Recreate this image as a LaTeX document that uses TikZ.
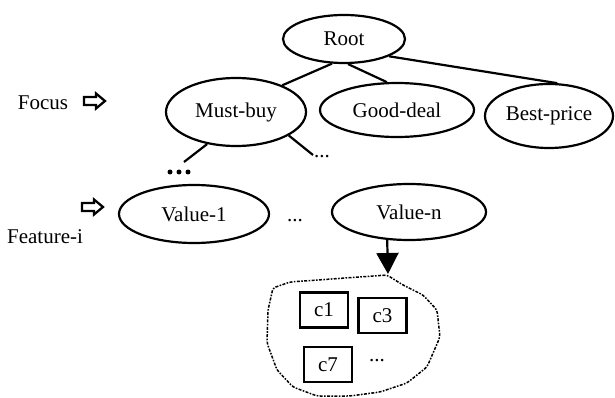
\documentclass[tikz,border=0pt]{standalone}
\usepackage{fontspec}
\setmainfont{Liberation Serif}
\usetikzlibrary{shapes.geometric,arrows.meta}
\tikzset{
  txt/.style={font=\fontsize{21}{25}\selectfont},
  oval/.style={draw,ellipse,line width=2.2pt,inner sep=0pt,txt},
  edge/.style={line width=2.2pt},
  cbox/.style={draw,line width=2.2pt,minimum width=48pt,minimum height=35pt,inner sep=0pt,txt},
  lbl/.style={inner sep=0pt,txt},
  cloudline/.style={line width=1.5pt,dash pattern=on 1.6pt off 1.4pt on 3pt off 1.4pt,rounded corners=3pt},
  hollowarrow/.pic={\draw[line width=2.3pt,line join=miter]
     (-10,-4) -- (2,-4) -- (2,-7.5) -- (11,0) -- (2,7.5) -- (2,4) -- (-10,4) -- cycle;}
}
\begin{document}
\begin{tikzpicture}[x=1pt,y=-1pt]
\useasboundingbox (0,0) rectangle (615,398);

% tree nodes
\node[oval,minimum width=122pt,minimum height=48pt] (root) at (344,39) {Root};
\node[oval,minimum width=140pt,minimum height=68pt] (mb) at (236,112) {Must-buy};
\node[oval,minimum width=154pt,minimum height=54pt] (gd) at (397,110) {Good-deal};
\node[oval,minimum width=128pt,minimum height=64pt] (bp) at (549,116) {Best-price};
\node[oval,minimum width=150pt,minimum height=58pt] (v1) at (194,214) {Value-1};
\node[oval,minimum width=154pt,minimum height=56pt] (vn) at (409,212) {Value-n};

% level labels
\node[lbl] (focus) at (43,103) {Focus};
\pic at (94,101) {hollowarrow};
\node[lbl] (feat) at (45,237) {Feature-i};
\pic at (92,207) {hollowarrow};

% edges from the root
\draw[edge] (root.244) -- (mb.30);
\draw[edge] (root.279) -- (gd.110);
\draw[edge] (root.339) -- (bp.76);

% edges below Must-buy
\coordinate (mbl) at (184,162);
\coordinate (mbr) at (313,155);
\draw[edge] (mb.228) -- (mbl);
\draw[edge] (mb.336) -- (mbr);
\node[lbl,anchor=base] (dotsr) at (322,157.5) {...};
\foreach \x in {170,179,188} \fill (\x,172) circle (2.5);
\node[lbl,anchor=base] (dotsv) at (295,221) {...};

% case cluster
\coordinate (cloudtop) at (388,274);
\draw[cloudline] (387,275) -- (290,282) -- (273,288) -- (268,310) -- (267,343)
  -- (277,370) -- (293,387) -- (317,396) -- (350,396) -- (380,392) -- (407,383)
  -- (427,367) -- (440,337) -- (437,310) -- (423,295) -- (403,285) -- cycle;
\draw[edge,-{Triangle[width=22pt,length=21pt]}] (vn.232) -- (cloudtop);

\node[cbox] (c1) at (324,310) {c1};
\node[cbox] (c3) at (382.5,315.5) {c3};
\node[cbox] (c7) at (328,364.5) {c7};
\node[lbl,anchor=base] (dotsc) at (377,361.5) {...};
\end{tikzpicture}
\end{document}
